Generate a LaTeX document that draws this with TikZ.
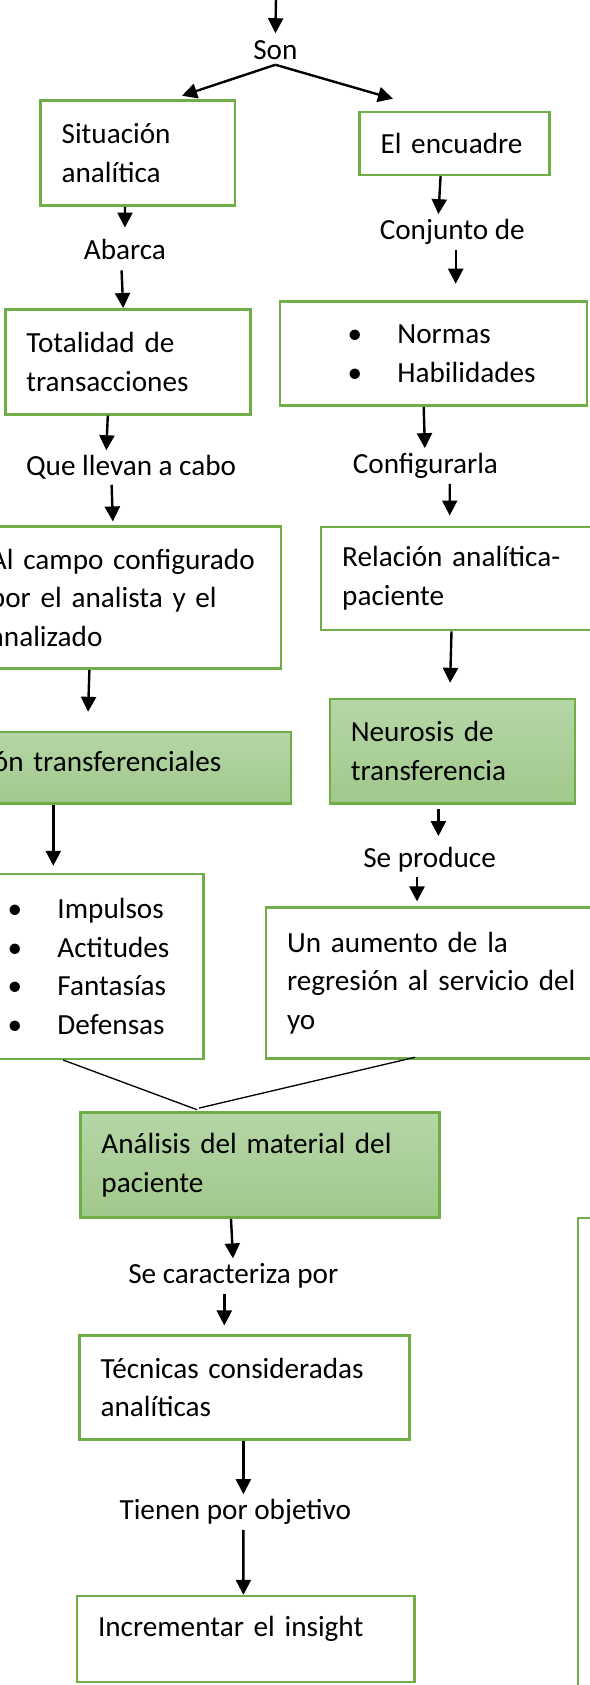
\documentclass[tikz,border=0pt]{standalone}
\usepackage{fontspec}
\setmainfont{Carlito}
\usetikzlibrary{arrows.meta}

\definecolor{verdeborde}{HTML}{70AD47}
\definecolor{verdearriba}{HTML}{B5D6A7}
\definecolor{verdeabajo}{HTML}{A0C98B}

\newcommand{\bul}[1]{\hspace*{54pt}\makebox[0pt]{\textbullet}\hspace*{42.5pt}#1}

\tikzset{
	caja/.style={draw=verdeborde, line width=2.5pt, inner xsep=21pt, inner ysep=0pt, align=left},
	cajaverde/.style={caja, top color=verdearriba, bottom color=verdeabajo},
	etiq/.style={inner xsep=0pt, inner ysep=5pt},
	flecha/.style={line width=2.4pt, -{Triangle[width=15pt,length=15pt]}},
	linea/.style={line width=1.3pt}
}

\begin{document}
\begin{tikzpicture}[x=1pt, y=-1pt, every node/.style={font=\fontsize{29.2pt}{38.5pt}\selectfont}]
	\useasboundingbox (0,0) rectangle (589,1685);

	\coordinate (arriba) at (276,-2);
	\node[etiq] (son) at (275.4,50) {Son};

	\node[caja, text width=152.2pt, minimum height=105pt] (sit) at (137.7,153.2) {Situación\\analítica};
	\node[caja, text width=148.1pt, minimum height=63pt] (enc) at (454.6,143.5) {El encuadre};

	\node[etiq] (abarca) at (124.9,249) {Abarca};
	\node[etiq] (conj) at (452.3,232) {Conjunto de};

	\node[caja, text width=203.3pt, minimum height=105pt] (tot) at (128,361.8) {Totalidad de\\transacciones};
	\node[caja, text width=265pt, minimum height=104pt] (nor) at (433.5,353.7) {\bul{Normas}\\\bul{Habilidades}};

	\node[etiq] (que) at (131.1,467.5) {Que llevan a cabo};
	\node[etiq] (conf) at (425.4,466) {Configurarla};

	\node[caja, text width=270pt, minimum height=142pt] (cam) at (125,597.7) {Al campo configurado\\por el analista y el\\analizado};
	\node[caja, text width=236.8pt, minimum height=103.3pt] (rel) at (460.6,578.4) {Relación analítica-\\paciente};

	\node[cajaverde, text width=277pt, minimum height=71.3pt, text depth=12pt] (tra) at (131.5,767.7) {ón transferenciales};
	\node[cajaverde, text width=203pt, minimum height=104.3pt] (neu) at (452.3,751.2) {Neurosis de\\transferencia};

	\node[etiq] (sepro) at (429.6,859.4) {Se produce};

	\node[caja, text width=221.6pt, minimum height=184.7pt] (imp) at (71.8,966.4) {\bul{Impulsos}\\\bul{Actitudes}\\\bul{Fantasías}\\\bul{Defensas}};
	\node[caja, text width=310pt, minimum height=151pt] (aum) at (442,982.8) {Un aumento de la\\regresión al servicio del\\yo};

	\node[cajaverde, text width=317.1pt, minimum height=105pt] (ana) at (260,1165.2) {Análisis del material del\\paciente};
	\node[caja, minimum width=200pt, minimum height=600pt, anchor=north west] (otro) at (576.6,1216.7) {};

	\node[etiq] (secar) at (233.3,1276) {Se caracteriza por};
	\node[caja, text width=287.9pt, minimum height=104pt] (tec) at (244.6,1387.3) {Técnicas consideradas\\analíticas};
	\node[etiq] (tien) at (235.3,1512) {Tienen por objetivo};
	\node[caja, text width=295.4pt, minimum height=85.7pt, text height=20pt, text depth=24pt] (inc) at (245.7,1638.9) {Incrementar el insight};

	\path [flecha] (arriba) edge[shorten >=2pt] (son.north);
	\path [flecha] (son.south) edge ([xshift=44.3pt,yshift=3.7pt]sit.north);
	\path [flecha] (son.south) edge ([xshift=-61.6pt,yshift=12pt]enc.north);
	\path [flecha] ([xshift=-12.7pt]sit.south) edge[shorten >=6pt] (abarca.north);
	\path [flecha] ([xshift=-3.6pt]abarca.south) edge[shorten <=6pt] ([xshift=-4.8pt]tot.north);
	\path [flecha] ([xshift=-14pt]enc.south) edge ([xshift=-13.9pt]conj.north);
	\path [flecha] ([xshift=3.4pt]conj.south) edge[shorten >=16.7pt] ([xshift=22.2pt]nor.north);
	\path [flecha] ([xshift=-20.2pt]tot.south) edge ([xshift=-24.8pt]que.north);
	\path [flecha] ([xshift=-19.5pt]que.south) edge[shorten >=4pt] ([xshift=-12pt]cam.north);
	\path [flecha] ([xshift=-9.8pt]nor.south) edge ([xshift=-0.5pt]conf.north);
	\path [flecha] ([xshift=24.3pt]conf.south) edge[shorten >=10pt] ([xshift=-10.9pt]rel.north);
	\path [flecha] ([xshift=-35.6pt]cam.south) edge[shorten >=19pt] ([xshift=-44pt]tra.north);
	\path [flecha] ([xshift=-9.1pt]rel.south) edge[shorten >=15pt] ([xshift=-2.6pt]neu.north);
	\path [flecha] ([xshift=-78.2pt]tra.south) edge[shorten >=7pt] ([xshift=-18.5pt]imp.north);
	\path [flecha] ([xshift=-13.9pt]neu.south) edge[shorten <=4pt, shorten >=5.6pt] ([xshift=8.8pt]sepro.north);
	\path [flecha] ([xshift=-12.6pt]sepro.south) edge[shorten >=4.6pt] ([xshift=-25pt]aum.north);
	\path [linea] ([xshift=-8.7pt]imp.south) edge ([xshift=-62.8pt,yshift=1.7pt]ana.north);
	\path [linea] ([xshift=-26.9pt,yshift=2.3pt]aum.south) edge ([xshift=-60.9pt,yshift=3.4pt]ana.north);
	\path [flecha] ([xshift=-29pt]ana.south) edge ([xshift=-0.3pt]secar.north);
	\path [flecha] ([xshift=-9pt]secar.south) edge[shorten >=8.6pt] ([xshift=-20.3pt]tec.north);
	\path [flecha] ([xshift=-1.2pt]tec.south) edge ([xshift=8.1pt]tien.north);
	\path [flecha] ([xshift=8.1pt]tien.south) edge ([xshift=-2.3pt]inc.north);
\end{tikzpicture}
\end{document}
